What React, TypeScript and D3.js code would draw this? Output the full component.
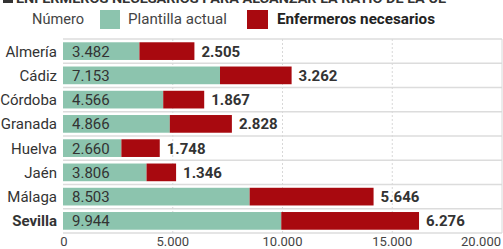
import React from 'react';
import * as d3 from 'd3';

const provincias = ['Almería', 'Cádiz', 'Córdoba', 'Granada', 'Huelva', 'Jaén', 'Málaga', 'Sevilla'];
const plantilla = [3482, 7153, 4566, 4866, 2660, 3806, 8503, 9944];
const necesarios = [2505, 3262, 1867, 2828, 1748, 1346, 5646, 6276];
const ticks = [0, 5000, 10000, 15000, 20000];

const TEAL = '#8cc4ae';
const RED = '#a8090f';
const FONT = 'Roboto, sans-serif';

const fmt = (v: number) => d3.format(',')(v).replace(/,/g, '.');

export default function App() {
  const W = 503, H = 249;
  const margin = { top: 39, right: 1, bottom: 16, left: 63 };

  const x = d3.scaleLinear().domain([0, 20000]).range([margin.left, W - margin.right]);
  const y = d3.scaleBand().domain(provincias).range([margin.top, H - margin.bottom]).paddingInner(0.27).paddingOuter(0.135);
  const rowStep = y.step();

  return (
    <svg width={W} height={H} style={{ position: 'absolute', left: 0, top: 0, background: '#fff' }} fontFamily={FONT}>
      {/* titulo cortado arriba */}
      <rect x={3} y={-7} width={10} height={10} fill="#333" />
      <text x={16} y={3} fontSize={13} fontWeight={700} fill="#333" textLength={430} lengthAdjust="spacingAndGlyphs">
        ENFERMEROS NECESARIOS PARA ALCANZAR LA RATIO DE LA UE
      </text>

      {/* leyenda */}
      <g fontSize={15}>
        <text x={32} y={24} fill="#444" textLength={52} lengthAdjust="spacingAndGlyphs">Número</text>
        <rect x={100} y={10} width={20} height={19} fill={TEAL} />
        <text x={128} y={24} fill="#444" textLength={99} lengthAdjust="spacingAndGlyphs">Plantilla actual</text>
        <rect x={247} y={10} width={21} height={19} fill={RED} />
        <text x={277} y={24} fill="#222" fontWeight={700} textLength={158} lengthAdjust="spacingAndGlyphs">Enfermeros necesarios</text>
      </g>

      {/* separadores de fila */}
      {d3.range(provincias.length + 1).map(i => {
        const yy = margin.top + i * rowStep;
        return <line key={i} x1={x(0)} x2={x(20000)} y1={yy} y2={yy} stroke="#dcdcdc" strokeWidth={1.5} />;
      })}

      {/* rejilla vertical */}
      {ticks.slice(1).map(t => (
        <line key={t} x1={x(t)} x2={x(t)} y1={margin.top} y2={H - margin.bottom}
          stroke="#d8d8d8" strokeWidth={1} strokeDasharray={t === 20000 ? undefined : '2,2'} />
      ))}

      {provincias.map((p, i) => {
        const yy = y(p)!;
        const bh = y.bandwidth();
        const a = plantilla[i];
        const b = necesarios[i];
        const bold = p === 'Sevilla';
        return (
          <g key={p}>
            <text x={57} y={yy + bh / 2} dy="0.36em" textAnchor="end" fontSize={15}
              fill="#333" fontWeight={bold ? 700 : 400}>{p}</text>
            <rect x={x(0)} y={yy} width={x(a) - x(0)} height={bh} fill={TEAL} />
            <rect x={x(a)} y={yy} width={x(a + b) - x(a)} height={bh} fill={RED} />
            <text x={x(0) + 9} y={yy + bh / 2} dy="0.36em" fontSize={15} fill="#333">{fmt(a)}</text>
            <text x={x(a + b) + 7} y={yy + bh / 2} dy="0.36em" fontSize={15} fontWeight={700} fill="#333">{fmt(b)}</text>
          </g>
        );
      })}

      {/* eje x */}
      {ticks.map(t => (
        <text key={t} x={t === 20000 ? x(t) - 1 : x(t) + (t === 0 ? 1 : 0)} y={246}
          textAnchor={t === 20000 ? 'end' : 'middle'} fontSize={13} fill="#444">{fmt(t)}</text>
      ))}
    </svg>
  );
}
